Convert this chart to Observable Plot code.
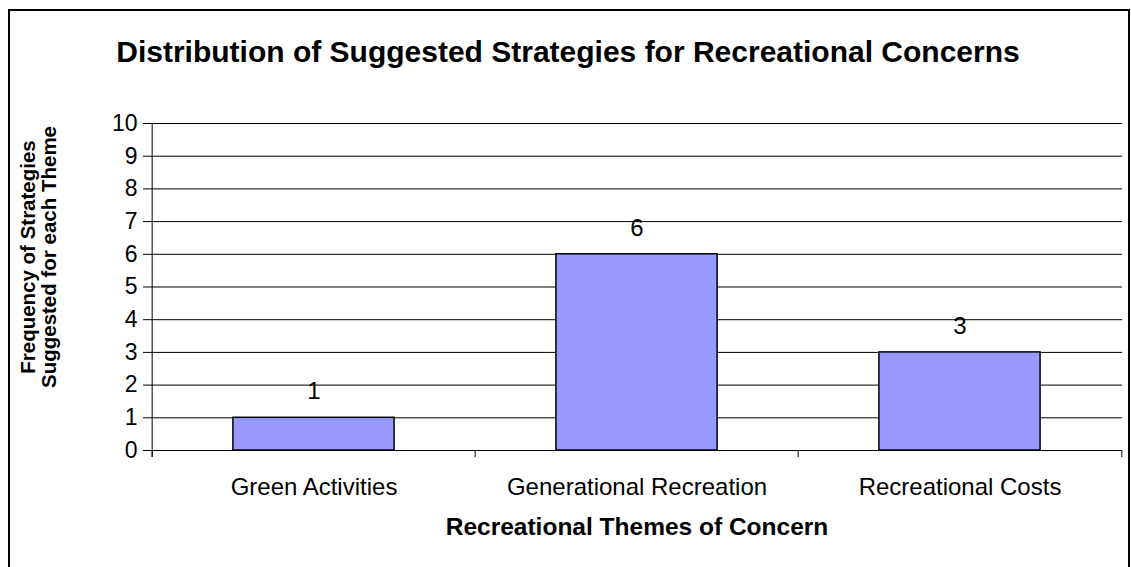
<!DOCTYPE html>
<html>
<head>
<meta charset="utf-8">
<script src="https://cdn.jsdelivr.net/npm/d3@7"></script>
<script src="https://cdn.jsdelivr.net/npm/@observablehq/plot@0.6"></script>
<style>
  body { margin: 0; background: #fff; font-family: "Liberation Sans", Arial, sans-serif; }
  #wrap { position: relative; width: 1131px; height: 567px; overflow: hidden; background: #fff; }
  #border { position: absolute; left: 8px; top: 9px; width: 1122px; height: 600px; border: 2px solid #000; box-sizing: border-box; }
  #title { position: absolute; left: 0; width: 1136px; top: 35px; text-align: center; font-weight: bold; font-size: 30px; line-height: 34px; color: #000; }
  #chart { position: absolute; left: 0; top: 100px; }
  #chart svg { font-family: "Liberation Sans", Arial, sans-serif; overflow: visible; }
</style>
</head>
<body>
<div id="wrap">
  <div id="border"></div>
  <div id="title"></div>
  <div id="chart"></div>
</div>
<script>
const titleText = "Distribution of Suggested Strategies for Recreational Concerns";
const categories = ["Green Activities", "Generational Recreation", "Recreational Costs"];
const values = [1, 6, 3];
const yTicks = [0, 1, 2, 3, 4, 5, 6, 7, 8, 9, 10];
const xTitle = "Recreational Themes of Concern";
const yTitle = "Frequency of Strategies\nSuggested for each Theme";

document.getElementById("title").textContent = titleText;

const data = categories.map((c, i) => ({category: c, value: values[i]}));

const W = 1131, H = 467, mL = 151, mR = 9, mT = 23, mB = 117;
const bw = (W - mL - mR) / categories.length;
const tickDrop = 7 / ((H - mT - mB) / 10); // 7px below axis, in data units

const chart = Plot.plot({
  width: W,
  height: H,
  marginLeft: mL,
  marginRight: mR,
  marginTop: mT,
  marginBottom: mB,
  style: {background: "transparent", color: "#000", fontFamily: "'Liberation Sans', Arial, sans-serif", overflow: "visible"},
  x: {type: "band", domain: categories, padding: 0, label: null},
  y: {domain: [0, 10], label: null},
  marks: [
    Plot.gridY(yTicks, {stroke: "#000", strokeOpacity: 1, strokeWidth: 1}),
    Plot.barY(data, {x: "category", y: "value", fill: "#9999FF", stroke: "#000", strokeWidth: 1.5, insetLeft: bw / 4, insetRight: bw / 4}),
    Plot.text(data, {x: "category", y: "value", text: d => String(d.value), dy: -26, fontSize: 24, fill: "#000"}),
    Plot.axisY(yTicks, {tickSize: 8, tickPadding: 6, fontSize: 23, tickFormat: d => String(d), stroke: "#000", strokeOpacity: 1}),
    Plot.ruleX([categories[0]], {x: d => d, y1: 10, y2: -tickDrop, dx: -bw / 2, stroke: "#000"}),
    Plot.ruleX(categories, {x: d => d, y1: 0, y2: -tickDrop, dx: -bw / 2, stroke: "#000"}),
    Plot.ruleX([categories[categories.length - 1]], {x: d => d, y1: 0, y2: -tickDrop, dx: bw / 2, stroke: "#000"}),
    Plot.ruleY([0], {stroke: "#000"}),
    Plot.axisX({tickSize: 0, tickPadding: 27, fontSize: 24}),
    Plot.text([xTitle], {frameAnchor: "bottom", dy: 84, fontSize: 24.5, fontWeight: "bold", fill: "#000"}),
    Plot.text([yTitle], {frameAnchor: "left", textAnchor: "middle", rotate: -90, dx: -113, dy: -30, fontSize: 20.5, fontWeight: "bold", lineHeight: 1.05, fill: "#000"})
  ]
});
document.getElementById("chart").appendChild(chart);
</script>
</body>
</html>
